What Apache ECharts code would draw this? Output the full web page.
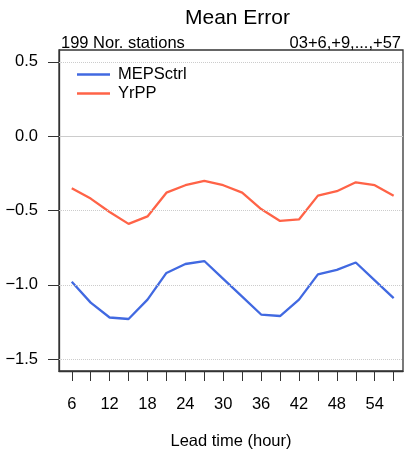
<!DOCTYPE html>
<html lang="en">
<head>
    <meta charset="UTF-8">
    <title>Mean Error</title>
    <script src="https://cdn.jsdelivr.net/npm/echarts@6/dist/echarts.min.js"></script>
</head>
<body style="margin:0">
    <div id="main" style="width: 406px; height: 459px;"></div>
    <script>
        // lead times (hours)
        const leadTimes = [6, 9, 12, 15, 18, 21, 24, 27, 30, 33, 36, 39, 42, 45, 48, 51, 54, 57];
        const mepsCtrl = [-0.98, -1.12, -1.22, -1.23, -1.10, -0.92, -0.86, -0.84, -0.96, -1.08, -1.20, -1.21, -1.10, -0.93, -0.90, -0.85, -0.97, -1.09];
        const yrPP = [-0.35, -0.42, -0.51, -0.59, -0.54, -0.38, -0.33, -0.30, -0.33, -0.38, -0.49, -0.57, -0.56, -0.40, -0.37, -0.31, -0.33, -0.40];
        const xLabels = [6, 12, 18, 24, 30, 36, 42, 48, 54];
        const yTicks = [-1.5, -1.0, -0.5, 0.0, 0.5];

        const font = 'Liberation Sans, Arial, sans-serif';
        const blue = '#4169E1';
        const red = '#FF6347';

        var myChart = echarts.init(document.getElementById('main'));
        option = {
            animation: false,
            textStyle: { fontFamily: font },
            title: [
                {
                    text: 'Mean Error',
                    left: 180, top: 3,
                    textStyle: { fontSize: 21, fontWeight: 'normal', color: '#000', fontFamily: font }
                },
                {
                    text: '199 Nor. stations',
                    left: 56, top: 30,
                    textStyle: { fontSize: 16.5, fontWeight: 'normal', color: '#000', fontFamily: font }
                },
                {
                    text: '03+6,+9,...,+57',
                    right: 0, top: 30,
                    textStyle: { fontSize: 16.5, fontWeight: 'normal', color: '#000', fontFamily: font }
                }
            ],
            legend: {
                orient: 'vertical',
                left: 72, top: 61,
                icon: 'rect',
                itemWidth: 33, itemHeight: 2.5,
                itemGap: 2,
                textStyle: { fontSize: 16.5, color: '#000', fontFamily: font, padding: [0, 0, 0, 3] },
                data: ['MEPSctrl', 'YrPP']
            },
            grid: {
                left: 59, right: 3, top: 50, bottom: 88,
                show: true, borderColor: '#333', borderWidth: 1.3,
                containLabel: false
            },
            xAxis: {
                type: 'value',
                min: 3.98, max: 58.48,
                name: 'Lead time (hour)',
                nameLocation: 'middle', nameGap: 62,
                nameTextStyle: { fontSize: 16.5, color: '#000', fontFamily: font },
                axisLine: { show: true, onZero: false, lineStyle: { color: '#333', width: 1.3 } },
                axisTick: { show: true, inside: false, length: 10, customValues: leadTimes, lineStyle: { color: '#333' } },
                axisLabel: { customValues: xLabels, margin: 25, fontSize: 16.5, color: '#000', fontFamily: font },
                splitLine: { show: false }
            },
            yAxis: {
                type: 'value',
                min: -1.58, max: 0.58,
                axisLine: { show: true, onZero: false, lineStyle: { color: '#333', width: 1.3 } },
                axisTick: { show: true, length: 11, customValues: yTicks, lineStyle: { color: '#333' } },
                axisLabel: {
                    customValues: yTicks, margin: 21, fontSize: 16.5, color: '#000', fontFamily: font,
                    formatter: function (v) { return v.toFixed(1).replace('-', '\u2212'); }
                },
                splitLine: { show: false }
            },
            series: [
                {
                    name: 'MEPSctrl',
                    type: 'line',
                    symbol: 'none',
                    color: blue,
                    lineStyle: { width: 2.3, color: blue },
                    data: leadTimes.map((h, i) => [h, mepsCtrl[i]]),
                    markLine: {
                        silent: true, symbol: 'none',
                        label: { show: false },
                        data: yTicks.map(v => ({
                            yAxis: v,
                            lineStyle: v === 0
                                ? { type: 'solid', color: '#ccc', width: 1 }
                                : { type: 'dotted', color: '#ccc', width: 1 }
                        }))
                    },
                    z: 3
                },
                {
                    name: 'YrPP',
                    type: 'line',
                    symbol: 'none',
                    color: red,
                    lineStyle: { width: 2.3, color: red },
                    data: leadTimes.map((h, i) => [h, yrPP[i]]),
                    z: 3
                }
            ]
        };
        myChart.setOption(option);
    </script>
</body>
</html>
